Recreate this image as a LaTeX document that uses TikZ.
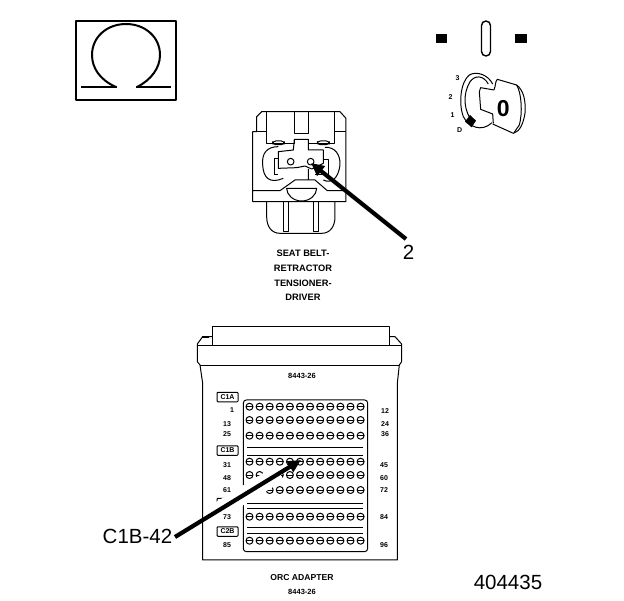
\documentclass[tikz,border=0pt]{standalone}
\usepackage{fontspec}
\setmainfont{Liberation Sans}
\usetikzlibrary{arrows.meta,calc}
\tikzset{
  every picture/.style={line join=round},
  thin line/.style={line width=1pt,black},
  callout/.style={font=\fontsize{20.5}{22}\selectfont,inner sep=0pt},
  tiny bold/.style={font=\bfseries\fontsize{9.3}{10}\selectfont,inner sep=0pt},
  part num/.style={font=\bfseries\fontsize{7.5}{8}\selectfont,inner sep=0pt},
  tiny num/.style={font=\bfseries\fontsize{7}{8}\selectfont,inner sep=0pt},
  pin/.style={circle,draw,line width=1pt,minimum size=7pt,inner sep=0pt,path picture={\draw[line width=1pt] (path picture bounding box.west) -- (path picture bounding box.east);}},
  tag/.style={draw,line width=1pt,rounded corners=0.8pt,minimum width=21pt,minimum height=9.5pt,inner sep=0pt,font=\bfseries\fontsize{7}{8}\selectfont},
  halo/.style={white,line width=17pt},
  leader/.style={line width=4.2pt,-{Triangle[length=13pt,width=12pt]}}
}
\begin{document}
\begin{tikzpicture}[x=1pt,y=-1pt]
\useasboundingbox (0,0) rectangle (624,600);
\fill[white] (0,0) rectangle (624,600);

% Omega symbol
\node[draw,line width=1.6pt,minimum width=100pt,minimum height=79pt,inner sep=0pt] (omegabox) at (126,60.5) {};
\draw[line width=2pt] (116,87) .. controls (100,80) and (92,68) .. (92,55) .. controls (92,37) and (107,24) .. (126,24) .. controls (145,24) and (160,37) .. (160,55) .. controls (160,68) and (151,80) .. (137,87);
\draw[line width=2.6pt] (81,87) -- (117,87) (136,87) -- (171,87);

% Ignition symbols
\fill (436,34) rectangle (447,42.5);
\fill (515,34) rectangle (527,42.5);
\draw[line width=1.4pt,rounded corners=4.5pt] (481.5,21) rectangle (490.5,56);
\begin{scope}[shift={(420,10)},x=0.3333pt,y=-0.3333pt,line width=1pt]
\node[tiny num] (pos3) at (113,205) {3};
\node[tiny num] (pos2) at (92,260) {2};
\node[tiny num] (pos1) at (98,316) {1};
\node[tiny num] (posD) at (119,360) {D};
\draw (218,222) .. controls (205,195) and (170,182) .. (148,195) .. controls (122,215) and (115,280) .. (130,320) .. controls (145,350) and (185,368) .. (216,338);
\draw (205,222) .. controls (190,195) and (165,195) .. (150,215) .. controls (130,250) and (130,290) .. (150,325);
\draw (222,240) -- (182,233) -- (178,245) -- (182,298) -- (218,312) -- (220,340);
\draw (222,240) .. controls (228,225) and (225,215) .. (232,208) -- (290,225) .. controls (310,240) and (318,270) .. (315,310) .. controls (310,340) and (300,365) .. (280,370) -- (218,342);
\draw (290,225) .. controls (305,250) and (308,310) .. (298,345) -- (282,368);
\fill (150,315) -- (168,332) -- (155,352) -- (135,335) -- cycle;
\node[font=\bfseries\fontsize{23}{23}\selectfont,inner sep=0pt] (keyzero) at (250,296) {0};
\end{scope}

% Connector
\begin{scope}[shift={(240,100)},x=0.3333pt,y=-0.3333pt,line width=1pt]
\draw (38,95) -- (50,95) -- (50,50) -- (65,35) -- (300,35) -- (318,55) -- (318,305) -- (38,305) -- cycle;
\draw (78,35) -- (78,130) -- (163,130) -- (163,118) -- (205,118) -- (205,130) -- (285,130) -- (285,35);
\draw (163,35) -- (163,100) -- (205,100) -- (205,35);
\draw (285,95) -- (318,95) (50,95) -- (78,95);
\draw[rounded corners=3pt] (98,123) rectangle (133,134);
\draw[rounded corners=3pt] (232,123) rectangle (268,134);
\draw (115,155) -- (160,150) -- (163,118) -- (205,118) -- (205,150) -- (250,150) -- (250,190) -- (215,207) -- (195,198) -- (170,203) -- (115,205) -- cycle;
\draw (152,185) circle (10);
\draw (212,185) circle (10);
\draw (115,140) .. controls (80,140) and (65,160) .. (68,195) .. controls (70,235) and (90,252) .. (130,235);
\draw (105,225) -- (105,175) -- (115,175) (105,225) -- (115,225);
\draw (255,142) .. controls (285,140) and (302,165) .. (300,195) .. controls (295,235) and (275,252) .. (250,240);
\draw (250,178) -- (265,178) -- (265,225) -- (225,225);
\draw (38,272) -- (120,272) -- (165,240) -- (205,240) -- (205,207) (205,240) -- (225,240) -- (262,272) -- (318,272);
\draw (140,265) -- (230,265) .. controls (230,285) and (210,303) .. (185,303) .. controls (160,303) and (140,285) .. (140,265) -- cycle;
\draw (80,305) -- (80,350) .. controls (80,380) and (95,400) .. (120,400) -- (245,400) .. controls (270,400) and (285,380) .. (285,350) -- (285,305);
\draw (130,305) -- (130,395) -- (145,395) -- (145,305);
\draw (220,305) -- (220,395) -- (237,395) -- (237,305);
\end{scope}

\node[tiny bold] (beltA) at (303,253.5) {SEAT BELT-};
\node[tiny bold] (beltB) at (303,268) {RETRACTOR};
\node[tiny bold] (beltC) at (303,283) {TENSIONER-};
\node[tiny bold] (beltD) at (303,297) {DRIVER};

% Adapter body
\begin{scope}[shift={(190,320)},x=0.3333pt,y=-0.3333pt,line width=1pt]
\draw (67,75) -- (67,20) -- (598,20) -- (598,75);
\draw (67,50) -- (38,50) -- (22,72) -- (22,125) -- (30,135) -- (38,190) -- (38,720) -- (622,720) -- (622,190) -- (628,135) -- (635,125) -- (635,72) -- (615,50) -- (598,50);
\draw (22,75) -- (635,75) (30,135) -- (628,135);
\draw[rounded corners=3pt] (160,240) rectangle (533,695);
\end{scope}
\draw[line width=2pt] (202,336.5) -- (209,336.5);

\node[part num] (toptitle) at (302,376) {8443-26};

% Separators
\foreach \yy in {447.5,455,503,508,527,533}
  \draw[thin line] (247,\yy) -- (363,\yy);

% Pins
\foreach \yy [count=\rr] in {406.7,420,435.7,461.7,475,490,516.7,540.7}
  \foreach \xx in {0,...,11}
    \node[pin] (p\rr-\xx) at (249.5+10.1*\xx,\yy) {};

% Tags and numbers
\node[tag] (c1a) at (227.5,397) {C1A};
\node[tag] (c1b) at (227.5,450.5) {C1B};
\node[tag] (c2a) at (227.5,503) {C2A};
\node[tag] (c2b) at (227.5,531.5) {C2B};
\foreach \nm/\xx/\yy/\txt in {l1/232/410/1,l13/227/424/13,l25/227/434/25,l31/227/465/31,l48/227/478/48,l85/227/545/85,
  r12/385/411/12,r24/385/424/24,r36/385/434/36,r45/384/465/45,r60/384/478/60,r72/384/490/72,r84/384/517/84,r96/384/545/96}
  \node[tiny num] (\nm) at (\xx,\yy) {\txt};

% Callouts
\node[callout] (two) at (408.5,252.5) {2};
\coordinate (tailtwo) at (406,239);
\coordinate (tiptwo) at (311,163);
\draw[leader] (tailtwo) -- (tiptwo);

\node[callout] (c1b42) at (137.5,536) {C1B-42};
\coordinate (tailc) at (175,537);
\coordinate (tipc) at (301,460);
\draw[halo] ($(tailc)!0.3!(tipc)$) -- ($(tailc)!0.83!(tipc)$);
\node[tiny num] (l73) at (227,517) {73};
\node[tiny num] (l61) at (227,490) {61};
\draw[leader] (tailc) -- (tipc);

\node[tiny bold,font=\bfseries\fontsize{8.6}{9}\selectfont] (orc) at (302,578) {ORC ADAPTER};
\node[part num] (orcnum) at (302,592) {8443-26};
\node[callout] (figno) at (508,582) {404435};
\end{tikzpicture}
\end{document}
